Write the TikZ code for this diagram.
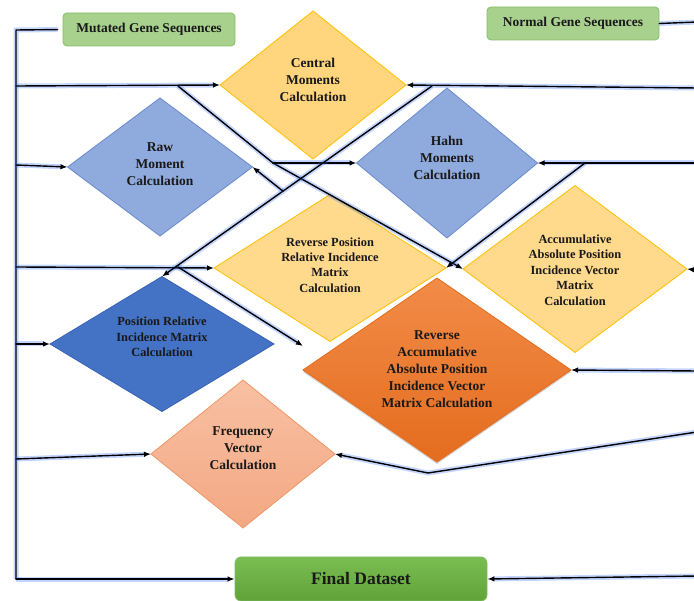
\documentclass[tikz,border=0pt]{standalone}
\usepackage{fontspec}
\setmainfont{Liberation Serif}
\usetikzlibrary{shapes.geometric,arrows.meta,calc,shadows}
\definecolor{ylwA}{RGB}{255,213,125}
\definecolor{ylwB}{RGB}{255,217,140}
\definecolor{ylwD}{RGB}{255,192,0}
\definecolor{bluL}{RGB}{143,170,220}
\definecolor{bluLD}{RGB}{105,138,205}
\definecolor{bluD}{RGB}{68,114,196}
\definecolor{bluDD}{RGB}{58,100,180}
\definecolor{orgT}{RGB}{242,140,72}
\definecolor{orgB}{RGB}{228,108,30}
\definecolor{salT}{RGB}{248,192,162}
\definecolor{salB}{RGB}{243,168,132}
\definecolor{salD}{RGB}{240,150,100}
\definecolor{grnL}{RGB}{169,209,142}
\definecolor{grnLD}{RGB}{130,190,100}
\definecolor{grnT}{RGB}{122,190,82}
\definecolor{grnB}{RGB}{96,162,56}
\definecolor{glowc}{RGB}{60,120,255}
\begin{document}
\begin{tikzpicture}[x=1pt,y=-1pt,
  dia/.style={diamond, draw, line width=0.8pt, inner sep=0pt, outer sep=0pt},
  lbl/.style={align=center, font=\bfseries\fontsize{13.5}{17}\selectfont, text=black!90, inner sep=0pt},
  slbl/.style={align=center, font=\bfseries\fontsize{12.4}{15.4}\selectfont, text=black!90, inner sep=0pt},
  gbox/.style={rectangle, rounded corners=4pt, draw=grnLD, fill=grnL, line width=0.8pt, inner sep=0pt,
    font=\bfseries\fontsize{13.5}{16}\selectfont, text=black!90},
  conn/.style={line width=1.4pt, draw=black, line cap=round, line join=round,
    preaction={draw=glowc, line width=5pt, opacity=0.3}},
  arr/.style={conn, -{Latex[length=7pt,width=5.5pt]}},
]
\useasboundingbox (0,0) rectangle (694,601);

% diamonds
\node[dia, fill=ylwA, draw=ylwD, minimum width=186pt, minimum height=148pt] (cm) at (313,85) {};
\node[lbl] at (313,80) {Central\\Moments\\Calculation};
\node[dia, fill=bluL, draw=bluLD, minimum width=185pt, minimum height=138pt] (raw) at (160,167) {};
\node[lbl] at (160,164) {Raw\\Moment\\Calculation};
\node[dia, fill=bluL, draw=bluLD, minimum width=181pt, minimum height=150pt] (hahn) at (447,163) {};
\node[lbl] at (447,158) {Hahn\\Moments\\Calculation};
\node[dia, fill=ylwB, draw=ylwD, minimum width=232pt, minimum height=147pt] (rp) at (330,268) {};
\node[slbl] at (330,265) {Reverse Position\\Relative Incidence\\Matrix\\Calculation};
\node[dia, fill=ylwB, draw=ylwD, minimum width=224pt, minimum height=167pt] (acc) at (575,269) {};
\node[slbl] at (575,270) {Accumulative\\Absolute Position\\Incidence Vector\\Matrix\\Calculation};
\node[dia, fill=bluD, draw=bluDD, minimum width=224pt, minimum height=135pt] (pr) at (162,344) {};
\node[slbl] at (162,337) {Position Relative\\Incidence Matrix\\Calculation};
\node[dia, top color=orgT, bottom color=orgB, draw=orgB, drop shadow={opacity=0.35, shadow xshift=0pt, shadow yshift=-2pt}, minimum width=268pt, minimum height=184pt] (ra) at (437,370) {};
\node[lbl] at (437,369) {Reverse\\Accumulative\\Absolute Position\\Incidence Vector\\Matrix Calculation};
\node[dia, top color=salT, bottom color=salB, draw=salD, minimum width=184pt, minimum height=148pt] (fv) at (243,454) {};
\node[lbl] at (243,448) {Frequency\\Vector\\Calculation};

% boxes
\node[gbox, minimum width=172pt, minimum height=33pt] (mut) at (149,29.5) {Mutated Gene Sequences};
\node[gbox, minimum width=172pt, minimum height=33pt] (norm) at (573,23.5) {Normal Gene Sequences};
\node[rectangle, rounded corners=6pt, top color=grnT, bottom color=grnB, draw=grnLD, line width=0.8pt,
  minimum width=252pt, minimum height=44pt, inner sep=0pt,
  font=\bfseries\fontsize{17.5}{20}\selectfont, text=black!90] (final) at (361,579) {Final Dataset};

% left bus coordinates
\coordinate (L0) at (16,30);
\coordinate (L6) at (16,579);
\coordinate (Lcm) at (16,86);
\coordinate (Lraw) at (16,165);
\coordinate (Lrp) at (16,267);
\coordinate (Lpr) at (16,344);
\coordinate (Lfv) at (16,459);
% right side coordinates
\coordinate (Rn) at (697,22);
\coordinate (Rcm) at (697,88);
\coordinate (Rhahn) at (697,163);
\coordinate (Racc) at (697,270);
\coordinate (Rra) at (697,371);
\coordinate (Rfv) at (697,432);
\coordinate (Rfin) at (697,576);
% branch points
\coordinate (A0) at (178,86);
\coordinate (A1) at (273,163);
\coordinate (B0) at (432,86);
\coordinate (B1) at ($(B0)!0.552!(pr.north)$);
\coordinate (C0) at (585,163);
\coordinate (D0) at (178,267);
\coordinate (raIn) at ($(ra.west)+(0,-24)$);
\coordinate (E1) at (428,473);

% left bus
\draw[conn, shorten <=5pt] (mut.west) -- (L0) -- (L6);
\draw[arr] (L6) -- (final.west);
\draw[arr] (Lcm) -- (cm.west);
\draw[arr] (Lraw) -- (raw.west);
\draw[arr] (Lrp) -- (rp.west);
\draw[arr] (Lpr) -- (pr.west);
\draw[arr] (Lfv) -- (fv.west);

% right side
\draw[conn] (norm.east) -- (Rn);
\draw[arr] (Rcm) -- (cm.east);
\draw[arr] (Rhahn) -- (hahn.east);
\draw[arr] (Racc) -- (acc.east);
\draw[arr] (Rra) -- (ra.east);
\draw[arr] (Rfv) -- (E1) -- (fv.east);
\draw[arr] (Rfin) -- (final.east);

% diagonals
\draw[conn] (A0) -- (A1);
\draw[arr] (A1) -- (acc.west);
\draw[arr] (A1) -- (hahn.west);
\draw[arr] (B0) -- (pr.north);
\draw[arr] (B1) -- (raw.east);
\draw[arr] (C0) -- (rp.east);
\draw[arr] (D0) -- (raIn);
\end{tikzpicture}
\end{document}
